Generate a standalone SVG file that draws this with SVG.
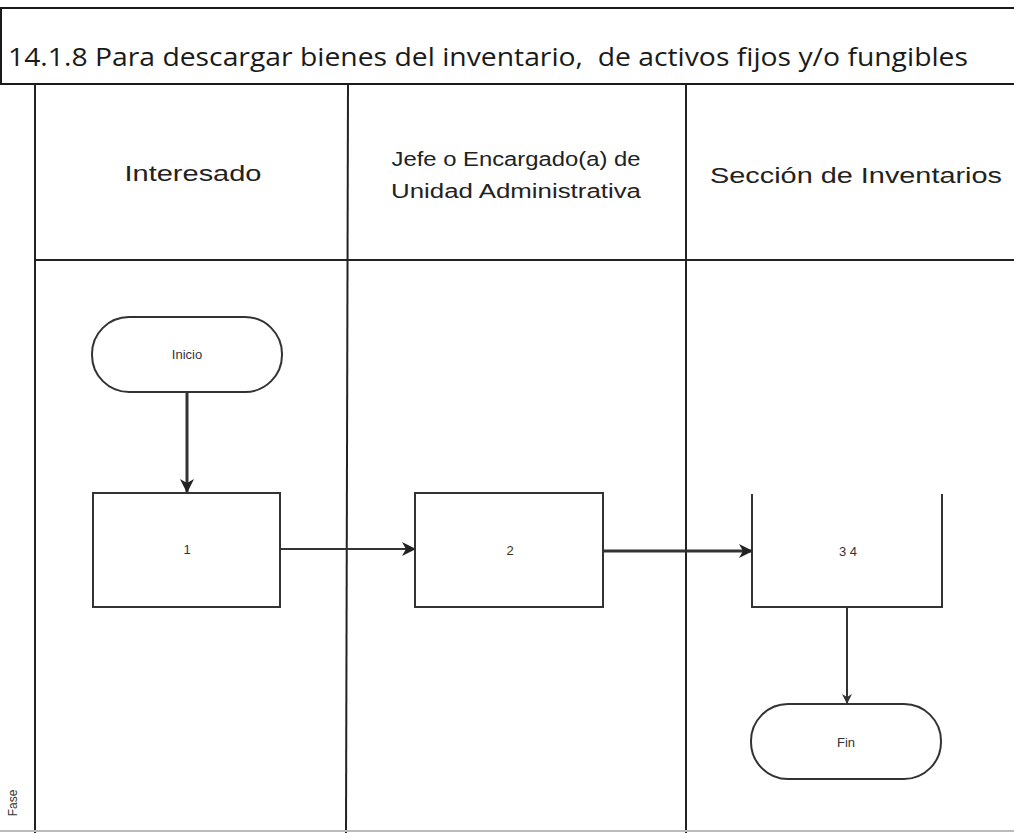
<svg xmlns="http://www.w3.org/2000/svg" width="1014" height="833" viewBox="0 0 1014 833">
<style>
.frame{stroke:#1a1a1a;stroke-width:2;fill:none}
.lane{stroke:#222;stroke-width:2;fill:none}
.shape{stroke:#333;stroke-width:2;fill:#fff}
.conn{stroke:#333;fill:none}
.hdr{font-family:"Liberation Sans",Arial,sans-serif;font-size:22px;fill:#222;text-anchor:middle}
.lbl{font-family:"Liberation Sans",Arial,sans-serif;font-size:13px;fill:#333;text-anchor:middle}
.title{font-family:"Open Sans","Liberation Sans",sans-serif;font-size:26px;fill:#1a1a1a;white-space:pre}
</style>
<defs>
<marker id="arr" markerWidth="10" markerHeight="10" refX="9" refY="5" orient="auto" markerUnits="userSpaceOnUse">
<path d="M0,0 L10,5 L0,10 L3,5 Z" fill="#333"/>
</marker>
<marker id="arrBig" markerWidth="14" markerHeight="14" refX="13" refY="7" orient="auto" markerUnits="userSpaceOnUse">
<path d="M0,0 L14,7 L0,14 L4,7 Z" fill="#222"/>
</marker>
</defs>
<rect width="1014" height="833" fill="#fff"/>
<g id="frame">
<line class="frame" x1="0" y1="8" x2="1014" y2="8"/>
<line class="frame" x1="1" y1="8" x2="1" y2="84"/>
<line class="frame" x1="0" y1="84" x2="1014" y2="84"/>
<text class="title" x="8" y="66" xml:space="preserve" textLength="960" lengthAdjust="spacingAndGlyphs">14.1.8 Para descargar bienes del inventario,  de activos fijos y/o fungibles</text>
<line class="lane" x1="35" y1="84" x2="35" y2="833"/>
<line class="lane" x1="348" y1="84" x2="346" y2="833"/>
<line class="lane" x1="686" y1="84" x2="686" y2="833"/>
<line class="lane" x1="35" y1="260" x2="1014" y2="260"/>
<line x1="0" y1="831" x2="1014" y2="831" stroke="#bbb" stroke-width="2"/>
<text class="lbl" transform="translate(17,803) rotate(-90)" text-anchor="middle" style="font-size:12px">Fase</text>
</g>
<g id="headers">
<text class="hdr" x="193" y="181" textLength="137" lengthAdjust="spacingAndGlyphs">Interesado</text>
<text class="hdr" x="516" y="166" style="font-size:20px" textLength="249" lengthAdjust="spacingAndGlyphs">Jefe o Encargado(a) de</text>
<text class="hdr" x="516" y="198" style="font-size:20px" textLength="250" lengthAdjust="spacingAndGlyphs">Unidad Administrativa</text>
<text class="hdr" x="856" y="183" textLength="292" lengthAdjust="spacingAndGlyphs">Sección de Inventarios</text>
</g>
<g id="connectors">
<line class="conn" x1="187" y1="392" x2="187" y2="492" stroke-width="3" marker-end="url(#arrBig)"/>
<line class="conn" x1="280" y1="549" x2="415" y2="549" stroke-width="2" marker-end="url(#arrBig)"/>
<line class="conn" x1="603" y1="551" x2="752" y2="551" stroke-width="3" marker-end="url(#arrBig)"/>
<line class="conn" x1="847" y1="607" x2="847" y2="703" stroke-width="2" marker-end="url(#arr)"/>
</g>
<g id="n-inicio">
<rect class="shape" x="92" y="317" width="190" height="75" rx="37" ry="37"/>
<text class="lbl" x="187" y="359">Inicio</text>
</g>
<g id="n-1">
<rect class="shape" x="93" y="493" width="187" height="114"/>
<text class="lbl" x="187" y="554">1</text>
</g>
<g id="n-2">
<rect class="shape" x="415" y="493" width="188" height="114"/>
<text class="lbl" x="510" y="555">2</text>
</g>
<g id="n-34">
<rect x="752" y="494" width="190" height="113" fill="#fff" stroke="none"/>
<path d="M752,494 L752,607 L942,607 L942,494" class="shape"/>
<text class="lbl" x="848" y="556">3 4</text>
</g>
<g id="n-fin">
<rect class="shape" x="751" y="704" width="190" height="75" rx="37" ry="37"/>
<text class="lbl" x="846" y="747">Fin</text>
</g>
</svg>
